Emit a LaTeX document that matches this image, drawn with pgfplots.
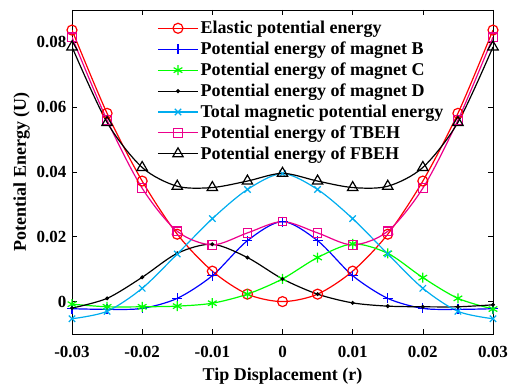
\documentclass[border=0pt]{standalone}
\usepackage{fontspec}
\setmainfont{Liberation Serif}
\usepackage{pgfplots}
\pgfplotsset{compat=1.18}
\begin{document}
\begin{tikzpicture}
\useasboundingbox (0,0) rectangle (508pt,385pt);
\begin{axis}[
 at={(72pt,51pt)}, anchor=south west,
 scale only axis, width=421pt, height=324pt,
 xmin=-0.03, xmax=0.03, ymin=-0.01, ymax=0.09,
 xtick={-0.03,-0.02,-0.01,0,0.01,0.02,0.03},
 xticklabels={-0.03,-0.02,-0.01,0,0.01,0.02,0.03},
 ytick={0,0.02,0.04,0.06,0.08},
 yticklabels={0,0.02,0.04,0.06,0.08},
 scaled ticks=false,
 tick align=inside, major tick length=5pt,
 axis line style={black, line width=0.6pt},
 tick style={black, line width=0.6pt},
 ticklabel style={font=\fontsize{17}{19}\selectfont\bfseries},
 xticklabel style={anchor=base, yshift=-24pt},
 yticklabel style={xshift=-2pt},
 xlabel={Tip Displacement (r)}, ylabel={Potential Energy (U)},
 label style={font=\fontsize{18}{21}\selectfont\bfseries},
 xlabel style={at={(axis description cs:0.5,0)}, anchor=base, yshift=-46pt},
 legend style={at={(axis description cs:0.2,0.975)}, anchor=north west, draw=none, fill=none,
   font=\fontsize{18}{21}\selectfont\bfseries, row sep=2.8pt, inner sep=1pt},
 legend cell align=left,
 legend image code/.code={\draw[mark repeat=2,mark phase=2] plot coordinates {(0pt,0pt) (20pt,0pt) (40pt,0pt)};},
 every axis plot/.append style={line width=1.2pt, smooth},
]
\addplot[red, mark=o, mark size=5pt] coordinates {
(-0.03,0.0838) (-0.025,0.0581) (-0.02,0.0372) (-0.015,0.0208) (-0.01,0.0094) (-0.005,0.0023) (0,0) (0.005,0.0023) (0.01,0.0094) (0.015,0.0208) (0.02,0.0372) (0.025,0.0581) (0.03,0.0838)};
\addlegendentry{Elastic potential energy}
\addplot[blue, mark=+, mark size=5pt] coordinates {
(-0.03,-0.0022) (-0.025,-0.0024) (-0.02,-0.0021) (-0.015,0.0010) (-0.01,0.0080) (-0.005,0.0188) (0,0.0247) (0.005,0.0188) (0.01,0.0080) (0.015,0.0010) (0.02,-0.0021) (0.025,-0.0024) (0.03,-0.0022)};
\addlegendentry{Potential energy of magnet B}
\addplot[green, mark=asterisk, mark size=5pt] coordinates {
(-0.03,-0.0008) (-0.025,-0.0016) (-0.02,-0.0016) (-0.015,-0.0014) (-0.01,-0.0005) (-0.005,0.0023) (0,0.0070) (0.005,0.0136) (0.01,0.0178) (0.015,0.0149) (0.02,0.0074) (0.025,0.0010) (0.03,-0.0023)};
\addlegendentry{Potential energy of magnet C}
\addplot[black, mark=*, mark size=1.3pt] coordinates {
(-0.03,-0.0020) (-0.025,0.0010) (-0.02,0.0075) (-0.015,0.0149) (-0.01,0.0177) (-0.005,0.0136) (0,0.0070) (0.005,0.0023) (0.01,-0.0004) (0.015,-0.0014) (0.02,-0.0016) (0.025,-0.0016) (0.03,-0.0010)};
\addlegendentry{Potential energy of magnet D}
\addplot[cyan, mark=x, mark size=4.5pt] coordinates {
(-0.03,-0.0053) (-0.025,-0.0030) (-0.02,0.0041) (-0.015,0.0147) (-0.01,0.0256) (-0.005,0.0346) (0,0.0395) (0.005,0.0346) (0.01,0.0256) (0.015,0.0147) (0.02,0.0041) (0.025,-0.0030) (0.03,-0.0053)};
\addlegendentry{Total magnetic potential energy}
\addplot[magenta, mark=square, mark size=4.3pt] coordinates {
(-0.03,0.0816) (-0.025,0.0560) (-0.02,0.0350) (-0.015,0.0217) (-0.01,0.0175) (-0.005,0.0212) (0,0.0247) (0.005,0.0212) (0.01,0.0175) (0.015,0.0217) (0.02,0.0350) (0.025,0.0560) (0.03,0.0816)};
\addlegendentry{Potential energy of TBEH}
\addplot[black, mark=triangle, mark size=6pt] coordinates {
(-0.03,0.0786) (-0.025,0.0553) (-0.02,0.0414) (-0.015,0.0356) (-0.01,0.0352) (-0.005,0.0372) (0,0.0396) (0.005,0.0372) (0.01,0.0352) (0.015,0.0356) (0.02,0.0414) (0.025,0.0553) (0.03,0.0786)};
\addlegendentry{Potential energy of FBEH}
\end{axis}
\end{tikzpicture}
\end{document}
